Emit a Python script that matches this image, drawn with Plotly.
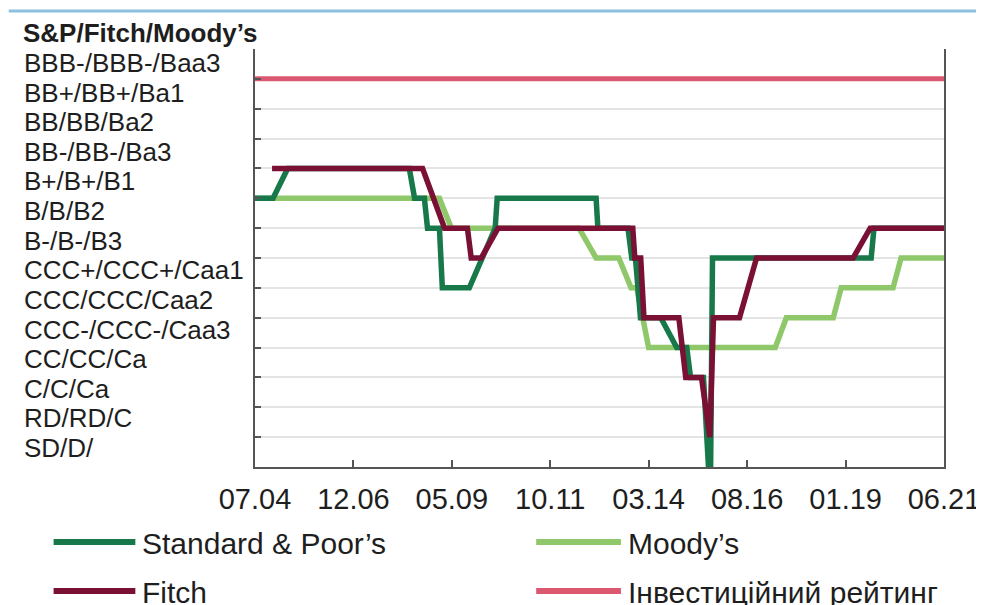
import plotly.graph_objects as go

# ---------------- data ----------------
rating_labels = ["SD/D/", "RD/RD/C", "C/C/Ca", "CC/CC/Ca", "CCC-/CCC-/Caa3",
                 "CCC/CCC/Caa2", "CCC+/CCC+/Caa1", "B-/B-/B3", "B/B/B2",
                 "B+/B+/B1", "BB-/BB-/Ba3", "BB/BB/Ba2", "BB+/BB+/Ba1",
                 "BBB-/BBB-/Baa3"]
rating_levels = list(range(len(rating_labels)))

tick_dates = ["2004-07-01", "2006-12-01", "2009-05-01", "2011-10-01",
              "2014-03-01", "2016-08-01", "2019-01-01", "2021-06-01"]
tick_labels = ["07.04", "12.06", "05.09", "10.11", "03.14", "08.16", "01.19", "06.21"]

series_names = ["Standard & Poor’s", "Moody’s", "Fitch", "Інвестиційний рейтинг"]

sp_dates = ["2004-07-01", "2004-12-10", "2005-04-20", "2008-04-15", "2008-06-01",
            "2008-08-28", "2008-09-25", "2009-01-10", "2009-02-05", "2009-10-05",
            "2010-05-25", "2010-06-12", "2012-11-15", "2012-12-01", "2013-08-28",
            "2013-10-01", "2013-11-03", "2013-12-18", "2014-06-18", "2014-11-08",
            "2015-02-06", "2015-03-12", "2015-07-06", "2015-08-20", "2015-09-08",
            "2015-09-25", "2019-08-18", "2019-09-12", "2021-06-01"]
sp_levels = [9, 9, 10, 10, 9,
             9, 8, 8, 6, 6,
             8, 9, 9, 8, 8,
             7, 7, 5, 5, 4,
             4, 3, 3, 0, 0,
             7, 7, 8, 8]

fitch_dates = ["2004-12-01", "2008-08-12", "2009-02-25", "2009-09-18", "2009-10-22",
               "2010-01-20", "2010-06-20", "2013-10-10", "2013-10-28", "2013-12-20",
               "2014-01-18", "2014-11-27", "2015-01-28", "2015-06-18", "2015-09-01",
               "2015-10-04", "2016-05-24", "2016-10-24", "2019-03-09", "2019-08-09",
               "2021-06-01"]
fitch_levels = [10, 10, 8, 8, 7,
                7, 8, 8, 7, 7,
                5, 5, 3, 3, 1,
                5, 5, 7, 7, 8,
                8]

moodys_dates = ["2004-07-01", "2009-01-10", "2009-04-27", "2012-06-15", "2012-11-15",
                "2013-06-07", "2013-09-24", "2013-11-15", "2014-03-01", "2017-04-10",
                "2017-07-18", "2018-09-12", "2018-11-22", "2020-03-01", "2020-05-12",
                "2021-06-01"]
moodys_levels = [9, 9, 8, 8, 7,
                 7, 6, 6, 4, 4,
                 5, 5, 6, 6, 7,
                 7]

invest_dates = ["2004-07-01", "2021-06-01"]
invest_levels = [13, 13]

# ---------------- style ----------------
C_SP = "#17784a"
C_MO = "#8fc86a"
C_FI = "#7a1033"
C_IN = "#dc5870"
FONT = "Liberation Sans, Arial, sans-serif"
TXT = "#1e1e1e"

OFF = 8  # page body margin: figure origin sits at (8, 8) on screen
W, H = 984, 605
# plot area in screen pixels: x 255..946, y 49..467
L = 255 - OFF
T = 49 - OFF
R = W - (946 - OFF)
B = H - (467 - OFF)
PW, PH = W - L - R, H - T - B


def px_x(sx):
    return (sx - OFF - L) / PW


def px_y(sy):
    return (H - B - (sy - OFF)) / PH


fig = go.Figure()
fig.add_trace(go.Scatter(x=moodys_dates, y=moodys_levels, mode="lines", name=series_names[1],
                         line=dict(color=C_MO, width=5.5)))
fig.add_trace(go.Scatter(x=sp_dates, y=sp_levels, mode="lines", name=series_names[0],
                         line=dict(color=C_SP, width=5.5)))
fig.add_trace(go.Scatter(x=fitch_dates, y=fitch_levels, mode="lines", name=series_names[2],
                         line=dict(color=C_FI, width=5.5)))
fig.add_trace(go.Scatter(x=invest_dates, y=invest_levels, mode="lines", name=series_names[3],
                         line=dict(color=C_IN, width=5)))

annotations = []
# y category labels (left aligned, offset above their grid lines)
for lvl, lab in zip(rating_levels, rating_labels):
    annotations.append(dict(text=lab, xref="paper", yref="y", x=px_x(21),
                            y=0.636 + lvl * 0.992, xanchor="left", yanchor="middle",
                            showarrow=False, font=dict(family=FONT, size=26, color=TXT)))
# axis title
annotations.append(dict(text="<b>S&P/Fitch/Moody’s</b>", xref="paper", yref="paper",
                        x=px_x(20), y=px_y(33), xanchor="left", yanchor="middle",
                        showarrow=False, font=dict(family=FONT, size=26, color=TXT)))

# manual legend
legend_items = [
    (series_names[0], C_SP, 53, 135, 542),
    (series_names[1], C_MO, 537, 622, 542),
    (series_names[2], C_FI, 53, 135, 591),
    (series_names[3], C_IN, 537, 622, 591),
]
shapes = []
for name, col, x0, x1, yy in legend_items:
    shapes.append(dict(type="line", xref="paper", yref="paper",
                       x0=px_x(x0), x1=px_x(x1), y0=px_y(yy), y1=px_y(yy),
                       line=dict(color=col, width=6)))
    annotations.append(dict(text=name, xref="paper", yref="paper", x=px_x(x1 + 5),
                            y=px_y(yy + 1), xanchor="left", yanchor="middle",
                            showarrow=False, font=dict(family=FONT, size=30, color=TXT)))

# top decorative blue rule
shapes.append(dict(type="line", xref="paper", yref="paper", x0=px_x(8), x1=px_x(992),
                   y0=px_y(11), y1=px_y(11), line=dict(color="#8cc0dd", width=3)))

fig.update_layout(
    width=W, height=H,
    margin=dict(l=L, r=R, t=T, b=B, pad=0),
    paper_bgcolor="white", plot_bgcolor="white",
    showlegend=False,
    annotations=annotations,
    shapes=shapes,
    font=dict(family=FONT, color=TXT),
)
fig.update_xaxes(
    type="date", range=["2004-07-01", "2021-06-01"],
    tickvals=tick_dates, ticktext=tick_labels,
    tickfont=dict(family=FONT, size=29, color=TXT),
    ticks="inside", ticklen=7, tickwidth=1.5, tickcolor="#555",
    showgrid=False, zeroline=False,
    showline=True, linecolor="#555", linewidth=2,
    ticklabelstandoff=5,
)
fig.update_yaxes(
    range=[0, 14], tickvals=list(range(0, 15)), showticklabels=False,
    ticks="inside", ticklen=6, tickwidth=1.5, tickcolor="#555",
    showgrid=True, gridcolor="#e4e4e4", gridwidth=2, zeroline=False,
    showline=True, linecolor="#555", linewidth=2, mirror=True,
)

fig.write_html("out.html")
